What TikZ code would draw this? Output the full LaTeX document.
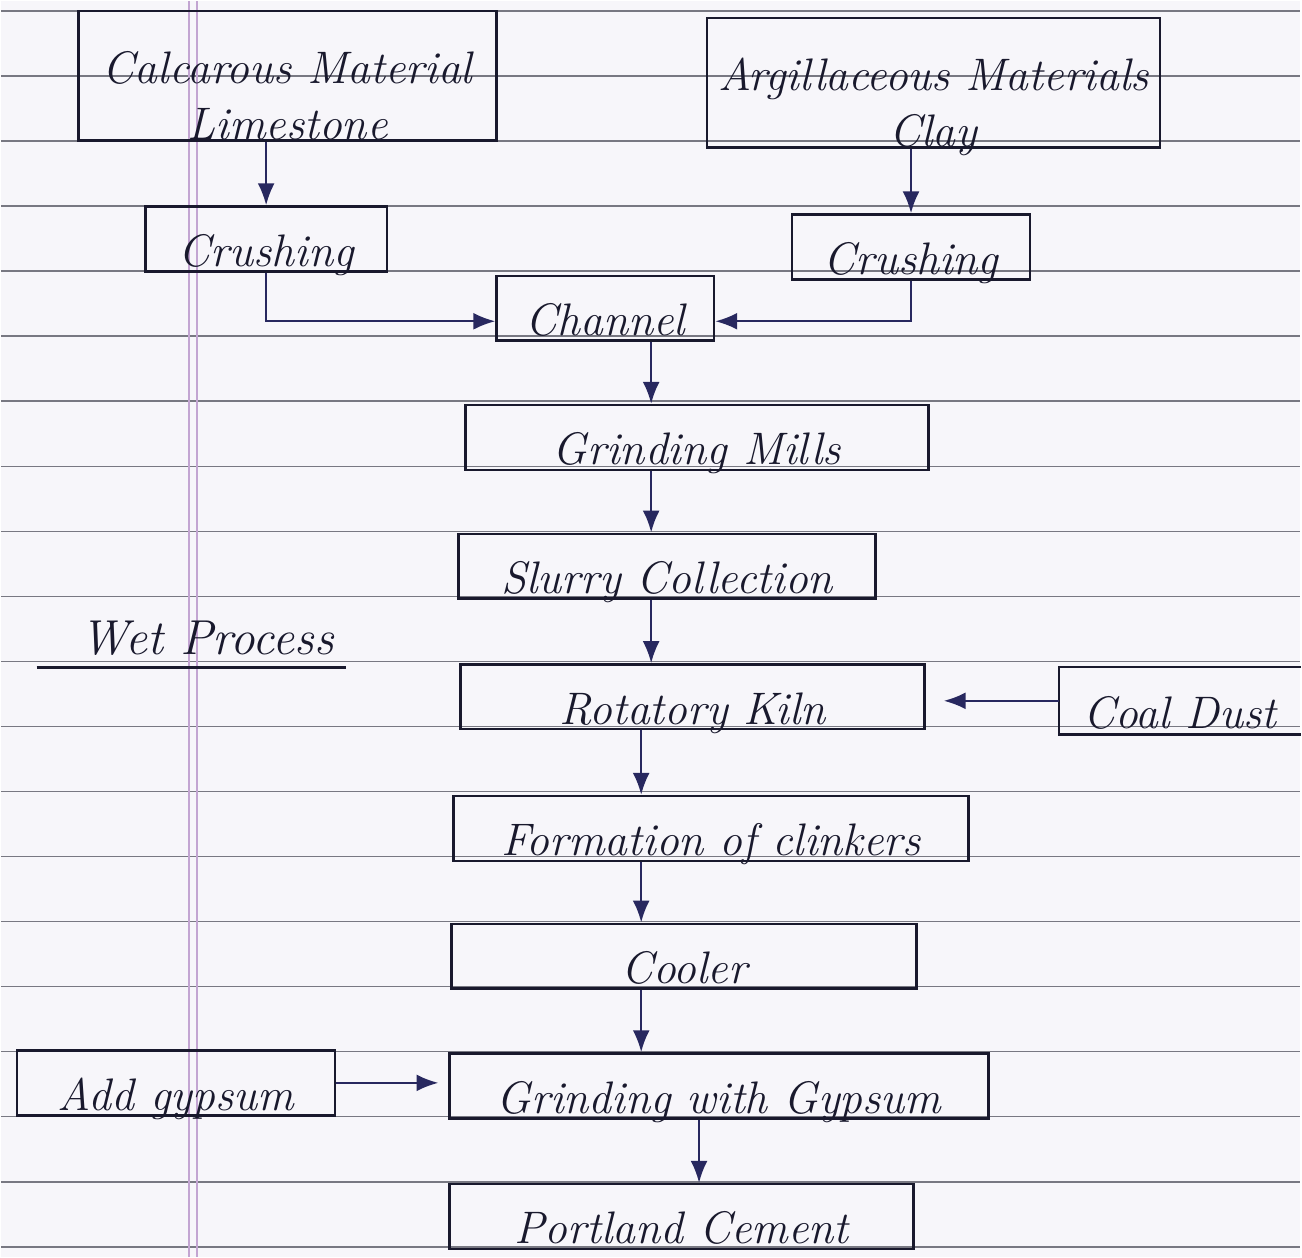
\documentclass[tikz,border=0pt]{standalone}
\usepackage{tikz}
\usetikzlibrary{arrows.meta,calc}

\definecolor{paper}{RGB}{247,246,250}
\definecolor{ink}{RGB}{25,25,45}
\definecolor{pen}{RGB}{40,40,95}
\definecolor{ruling}{RGB}{120,120,130}
\definecolor{marginpink}{RGB}{195,165,210}

\begin{document}
\begin{tikzpicture}[
stage/.style={rectangle, draw=ink, line width=0.7pt, inner xsep=0pt, inner ysep=0pt, text height=0.6cm, text depth=0.05cm, font=\fontsize{13}{16}\selectfont\itshape, text=ink},
tall/.style={text height=1.0cm, text depth=0.3cm},
arrow/.style={-{Latex[length=2.2mm,width=1.7mm]}, draw=pen, line width=0.7pt},
rule/.style={draw=ruling, line width=0.45pt}
]

% Paper
\fill[paper] (0,0) rectangle (13.02,-12.59);
\foreach \k in {0,...,19}
  \draw[rule] (0,{-0.10-0.652*\k}) -- (13.02,{-0.10-0.652*\k});
\draw[draw=marginpink, line width=0.6pt] (1.89,0) -- (1.89,-12.59) (1.97,0) -- (1.97,-12.59);

% Raw materials
\node[stage, tall, minimum width=4.19cm] (lime) at (2.875,-0.75) {\begin{tabular}{@{}c@{}}Calcarous Material\\Limestone\end{tabular}};
\node[stage, tall, minimum width=4.54cm] (clay) at (9.35,-0.82) {\begin{tabular}{@{}c@{}}Argillaceous Materials\\Clay\end{tabular}};
\node[stage, minimum width=2.42cm] (crushL) at (2.66,-2.385) {Crushing};
\node[stage, minimum width=2.39cm] (crushR) at (9.125,-2.465) {Crushing};

% Wet process line
\node[stage, minimum width=2.18cm] (chan) at (6.06,-3.08) {Channel};
\node[stage, minimum width=4.64cm] (grind) at (6.98,-4.375) {Grinding Mills};
\node[stage, minimum width=4.18cm] (slurry) at (6.68,-5.665) {Slurry Collection};
\node[stage, minimum width=4.65cm] (kiln) at (6.935,-6.975) {Rotatory Kiln};
\node[stage, draw=none, minimum width=2.40cm] (coal) at (11.82,-7.015) {Coal Dust};
\draw[ink, line width=0.7pt] (coal.north east) -- (coal.north west) -- (coal.south west) -- (coal.south east);
\node[stage, minimum width=5.16cm] (clinker) at (7.12,-8.295) {Formation of clinkers};
\node[stage, minimum width=4.66cm] (cool) at (6.85,-9.575) {Cooler};
\node[stage, minimum width=3.19cm] (gyp) at (1.755,-10.845) {Add gypsum};
\node[stage, minimum width=5.40cm] (gypgrind) at (7.20,-10.875) {Grinding with Gypsum};
\node[stage, minimum width=4.65cm] (cement) at (6.825,-12.185) {Portland Cement};

% Heading
\node[font=\fontsize{14}{17}\selectfont\itshape, text=ink, anchor=base] (wet) at (2.07,-6.55) {Wet Process};
\draw[ink, line width=0.8pt] ([xshift=-0.32cm,yshift=-0.13cm]wet.base west) -- ([yshift=-0.13cm]wet.base east);

% Arrows
\coordinate (axisA) at (6.52,0);
\coordinate (axisB) at (6.42,0);
\coordinate (axisC) at (7.00,0);
\draw[arrow] (lime.south -| crushL.north) -- (crushL.north);
\draw[arrow] (clay.south -| crushR.north) -- (crushR.north);
\draw[arrow] (crushL.south) |- ([yshift=-0.13cm]chan.west);
\draw[arrow] (crushR.south) |- ([yshift=-0.13cm]chan.east);
\draw[arrow] (chan.south -| axisA) -- (grind.north -| axisA);
\draw[arrow] (grind.south -| axisA) -- (slurry.north -| axisA);
\draw[arrow] (slurry.south -| axisA) -- (kiln.north -| axisA);
\draw[arrow, shorten >=1.8mm] (coal.west) -- (coal.west -| kiln.east);
\draw[arrow] (kiln.south -| axisB) -- (clinker.north -| axisB);
\draw[arrow] (clinker.south -| axisB) -- (cool.north -| axisB);
\draw[arrow] (cool.south -| axisB) -- (gypgrind.north -| axisB);
\draw[arrow, shorten >=1mm] (gyp.east) -- (gyp.east -| gypgrind.west);
\draw[arrow] (gypgrind.south -| axisC) -- (cement.north -| axisC);

\end{tikzpicture}
\end{document}
